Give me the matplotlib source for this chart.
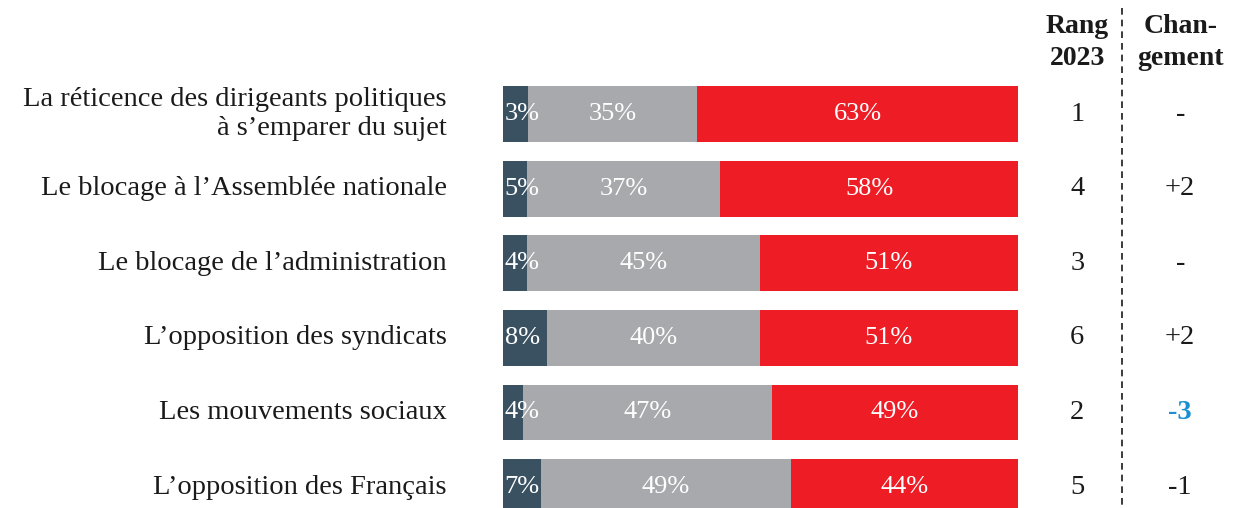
import matplotlib.pyplot as plt

plt.rcParams['font.family'] = ['Liberation Serif', 'DejaVu Serif']

categories = [
    "La réticence des dirigeants politiques\nà s\u2019emparer du sujet",
    "Le blocage à l\u2019Assemblée nationale",
    "Le blocage de l\u2019administration",
    "L\u2019opposition des syndicats",
    "Les mouvements sociaux",
    "L\u2019opposition des Français",
]
# bar lengths (share of the full bar)
dark_share = [4.9, 4.7, 4.7, 8.5, 3.9, 7.4]
grey_share = [32.8, 37.5, 45.2, 41.4, 48.3, 48.5]
red_share = [62.3, 57.8, 50.1, 50.1, 47.8, 44.1]
# printed labels
dark_lbl = [3, 5, 4, 8, 4, 7]
grey_lbl = [35, 37, 45, 40, 47, 49]
red_lbl = [63, 58, 51, 51, 49, 44]
rang_2023 = ["1", "4", "3", "6", "2", "5"]
changement = ["-", "+2", "-", "+2", "-3", "-1"]

DARK = '#3a5162'
GREY = '#a7a9ac'
RED = '#ee1d25'
BLUE = '#1b8fd2'
INK = '#1a1a1a'

fig = plt.figure(figsize=(12.33, 5.08), dpi=100)
ax = fig.add_axes([503 / 1233, 0, 515 / 1233, 1])
ax.set_xlim(0, 100)
ax.set_ylim(5.28, -1.528)
ax.axis('off')

ys = list(range(len(categories)))
h = 0.75
left2 = [d for d in dark_share]
left3 = [d + g for d, g in zip(dark_share, grey_share)]
ax.barh(ys, dark_share, height=h, color=DARK)
ax.barh(ys, grey_share, left=left2, height=h, color=GREY)
ax.barh(ys, red_share, left=left3, height=h, color=RED)

fs = 20.5
vfs = 19
for i in ys:
    ax.text(0.3, i, f"{dark_lbl[i]}%", color='white', fontsize=vfs,
            ha='left', va='center')
    ax.text(left2[i] + grey_share[i] / 2, i, f"{grey_lbl[i]}%",
            color='white', fontsize=vfs, ha='center', va='center')
    ax.text(left3[i] + red_share[i] / 2, i, f"{red_lbl[i]}%",
            color='white', fontsize=vfs, ha='center', va='center')
    ax.text(-10.9, i, categories[i], fontsize=fs, ha='right', va='center',
            color=INK, linespacing=1.22, clip_on=False)
    ax.text(111.5, i, rang_2023[i], fontsize=fs, ha='center', va='center',
            color=INK, clip_on=False)
    col = BLUE if changement[i] == "-3" else INK
    wt = 'bold' if changement[i] == "-3" else 'normal'
    ax.text(131.5, i, changement[i], fontsize=fs, ha='center',
            va='center', color=col, fontweight=wt, clip_on=False)

ax.text(111.5, -0.96, "Rang\n2023", fontsize=20, ha='center', va='center',
        fontweight='bold', color=INK, linespacing=1.35, clip_on=False)
ax.text(131.5, -0.96, "Chan-\ngement", fontsize=20, ha='center',
        va='center', fontweight='bold', color=INK, linespacing=1.35,
        clip_on=False)
ax.plot([120.2, 120.2], [-1.42, 5.28], color=INK, lw=1.2,
        ls=(0, (4, 3)), clip_on=False)

fig.savefig('out.png', dpi=100)
